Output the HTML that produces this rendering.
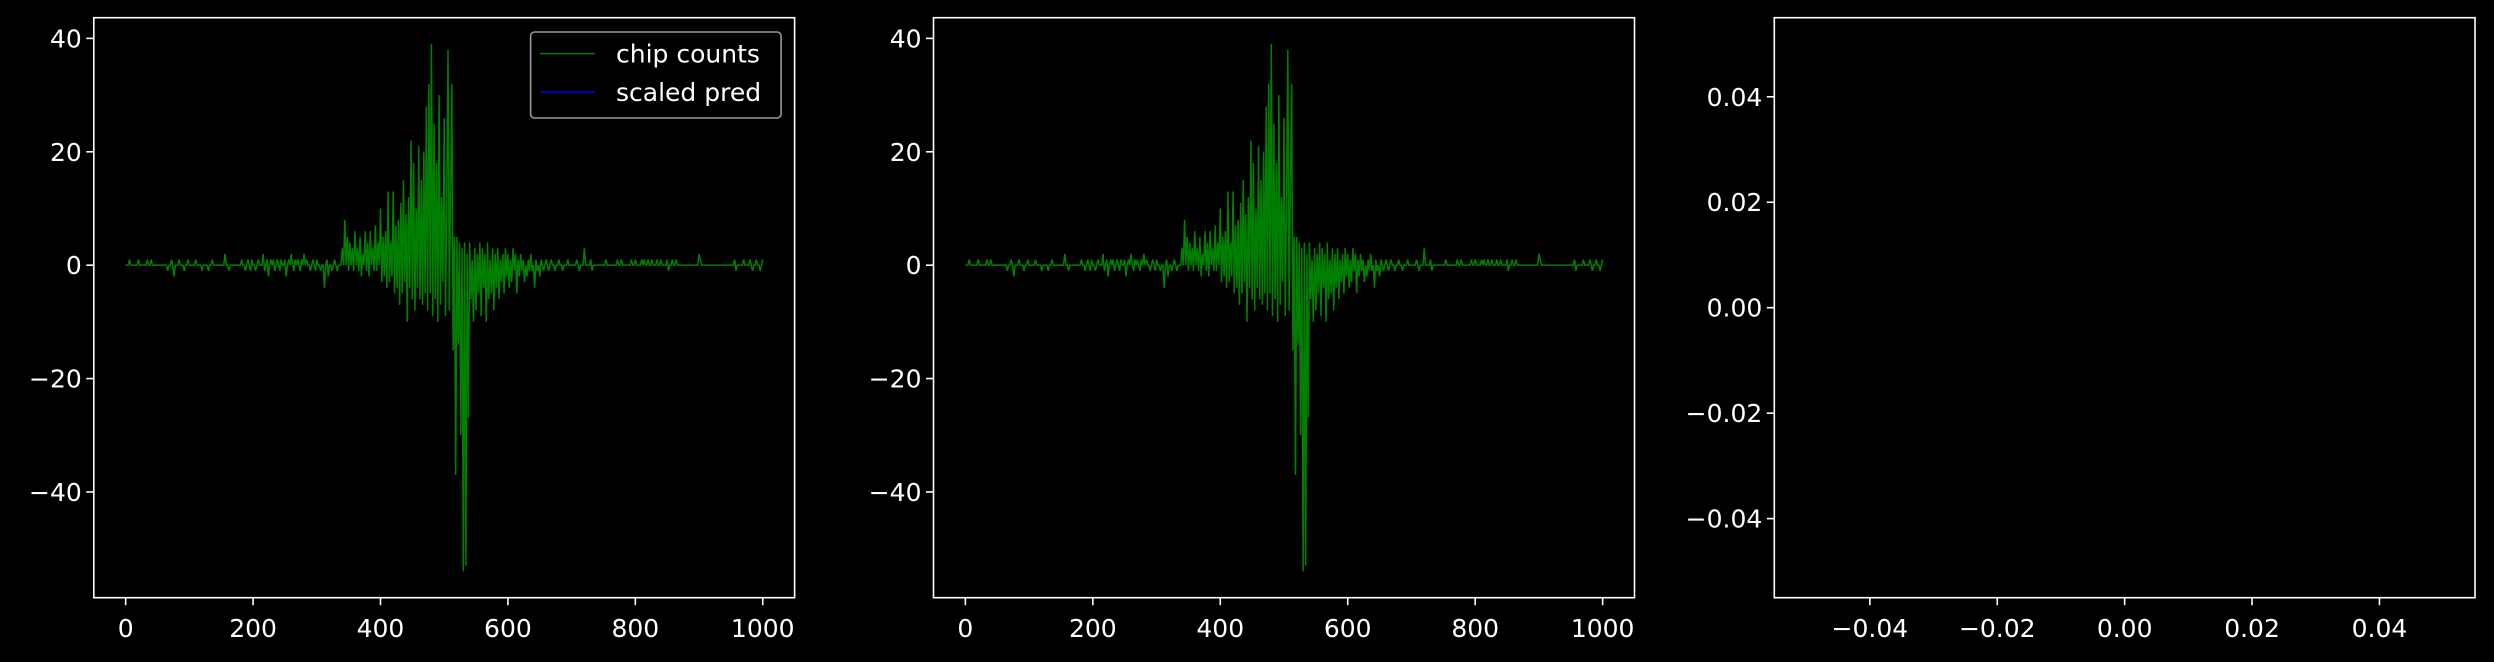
<!DOCTYPE html>
<html><head><meta charset="utf-8"><style>
html,body{margin:0;padding:0;background:#000;}
svg{display:block;font-family:"DejaVu Sans","Liberation Sans",sans-serif;}
</style></head><body>
<svg id="fig" width="2494" height="662" viewBox="0 0 2494 662" xmlns="http://www.w3.org/2000/svg">
<rect width="2494" height="662" fill="#000"/>
</svg>
<script>
const chipX0 = 0, chipStep = 2;
const chipCounts = [
0,0,0,1,0,0,0,0,0,0, 1,0,0,0,0,0,0,1,0,0, 1,0,0,0,0,0,0,0,0,0, 0,0,0,-1,0,0,1,0,-2,0, 0,0,1,0,0,0,-1,0,0,1,
0,0,0,0,0,1,0,0,0,0, -1,0,0,0,0,-1,0,0,1,0, 0,0,0,0,0,0,0,0,2,0, 0,-1,0,0,0,0,0,0,0,0, 0,1,0,0,-1,0,1,0,-1,1,
0,0,-1,0,1,0,0,0,2,-1, 0,1,-2,0,1,0,1,-1,0,1, 0,-1,1,0,0,1,-2,0,1,0, 2,0,-1,1,0,1,0,-1,1,0, 2,0,1,0,0,-1,0,1,0,-1,
1,0,0,-1,0,0,-4,0,1,-2, 0,0,-1,0,1,0,-1,0,0,0, 3,0,8,0,5,-1,4,0,3,-1, 6,0,3,-1,5,-2,2,0,6,-1, 4,-2,6,0,3,-1,7,-1,4,0,
10,-3,5,-2,6,-4,13,-3,4,-2, 13,-5,7,-4,8,-7,11,-5,15,-3, 9,-10,12,-4,22,-6,18,-8,10,-4, 21,-6,15,-7,20,-5,28,-8,32,-5, 39,-9,25,-6,18,-10,30,-7,12,-3,
26,-9,12,38,-8,14,32,-15,5,-37, 5,-14,4,-30,3,-54,4,-53,2,-27, 4,-6,1,-10,3,-8,2,-5,4,-9, 3,-4,2,-10,4,-6,1,-5,3,-8, 2,-4,3,-6,1,-3,2,-5,3,-2,
2,-4,1,-3,3,-1,2,-5,1,-2, 2,-1,1,-3,0,-2,1,-1,2,-1, 0,-4,1,-1,0,-2,1,0,-1,0, 1,0,-1,0,1,0,0,-1,0,0, 1,0,0,-1,0,0,0,1,0,0,
0,0,0,0,1,0,-1,0,0,0, 3,0,0,0,0,1,-1,0,0,0, 0,0,0,0,0,0,0,1,0,0, 0,0,0,0,0,0,1,0,0,1, 0,0,0,0,0,0,0,1,0,0,
1,0,0,0,0,1,0,1,0,0, 1,0,0,1,0,0,0,1,0,0, 1,0,0,0,0,1,-1,0,0,1, 0,0,1,0,0,0,0,0,0,0, 0,0,0,0,0,0,0,0,0,0,
2,1,0,0,0,0,0,0,0,0, 0,0,0,0,0,0,0,0,0,0, 0,0,0,0,0,0,0,0,1,-1, 0,0,0,0,0,1,0,0,0,0, 1,0,-1,0,0,1,0,0,-1,0,
1];
const scaledPred = [];
const xTicks1 = [0,200,400,600,800,1000];
const yTicks1 = [40,20,0,-20,-40];
const xTicks3 = [-0.04,-0.02,0.00,0.02,0.04];
const yTicks3 = [0.04,0.02,0.00,-0.02,-0.04];

const NS="http://www.w3.org/2000/svg";
const svg=document.getElementById('fig');
function mk(tag,attrs,parent){const e=document.createElementNS(NS,tag);for(const k in attrs)e.setAttribute(k,attrs[k]);(parent||svg).appendChild(e);return e;}
const fmt=v=>(v<0?'\u2212':'')+Math.abs(v);
const fmt2=v=>(v<0?'\u2212':'')+Math.abs(v).toFixed(2);
const TOP=17.7,BOT=597.7,FS=25;

function axes(left,right,xmin,xmax,ymin,ymax,xt,yt,f,name){
  const g=mk('g',{});
  
  
  const sx=v=>left+(v-xmin)/(xmax-xmin)*(right-left);
  const sy=v=>BOT-(v-ymin)/(ymax-ymin)*(BOT-TOP);
  xt.forEach(v=>{const x=sx(v);
    const t=mk('line',{x1:x,x2:x,y1:BOT,y2:BOT+7.5,stroke:'#fff','stroke-width':1.6},g);
    
    
    const l=mk('text',{x:x,y:637,fill:'#fff','font-size':FS,'text-anchor':'middle'},g);l.textContent=f(v);
    
    });
  yt.forEach(v=>{const y=sy(v);
    const t=mk('line',{x1:left-7.5,x2:left,y1:y,y2:y,stroke:'#fff','stroke-width':1.6},g);
    
    
    const l=mk('text',{x:left-12,y:y+9,fill:'#fff','font-size':FS,'text-anchor':'end'},g);l.textContent=f(v);
    
    });
  return {g,sx,sy,left,right};
}
function frame(a){const r=mk('rect',{x:a.left,y:TOP,width:a.right-a.left,height:BOT-TOP,fill:'none',stroke:'#fff','stroke-width':1.6},a.g);
  
  }
function series(a){
  let d='';chipCounts.forEach((v,i)=>{d+=(i?'L':'M')+a.sx(chipX0+i*chipStep).toFixed(2)+','+a.sy(v).toFixed(2);});
  const p=mk('path',{d:d,fill:'none',stroke:'#008000','stroke-width':1.5,'stroke-linejoin':'miter'},a.g);
  
  
}
const ymin=-58.65,ymax=43.65;
const a1=axes(93.8,794.6,-50,1050,ymin,ymax,xTicks1,yTicks1,fmt,'left-panel');
series(a1);frame(a1);
const a2=axes(933.5,1634.5,-50,1050,ymin,ymax,xTicks1,yTicks1,fmt,'middle-panel');
series(a2);frame(a2);
const a3=axes(1774.3,2475,-0.055,0.055,-0.055,0.055,xTicks3,yTicks3,fmt2,'right-panel');
frame(a3);

// legend
const lg=mk('g',{});


mk('rect',{x:530.6,y:32,width:250.5,height:86,rx:4,fill:'#000','fill-opacity':0.8,stroke:'#999','stroke-width':1.6},lg);
const e1=mk('line',{x1:540,x2:594.6,y1:53.6,y2:53.6,stroke:'#008000','stroke-width':1.5},lg);


const t1=mk('text',{x:616,y:62.5,fill:'#fff','font-size':FS},lg);t1.textContent='chip counts';


const e2=mk('line',{x1:540,x2:594.6,y1:92,y2:92,stroke:'#0000ff','stroke-width':1.5},lg);


const t2=mk('text',{x:616,y:101,fill:'#fff','font-size':FS},lg);t2.textContent='scaled pred';


</script>
</body></html>
